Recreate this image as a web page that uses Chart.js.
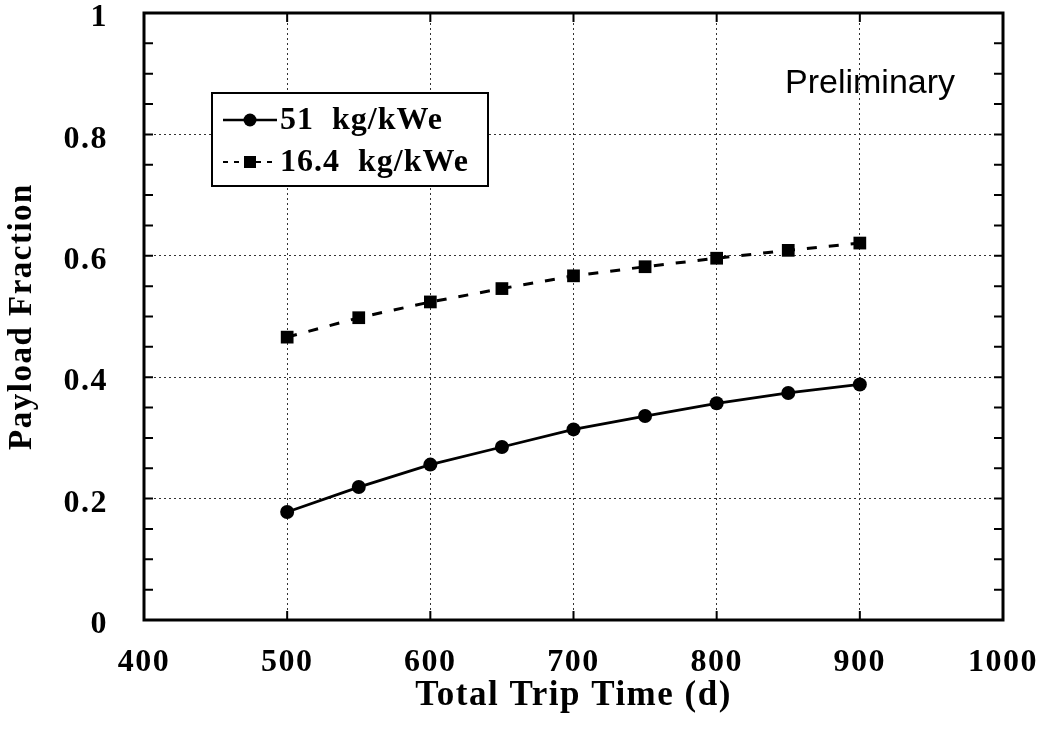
<!DOCTYPE html>
<html><head><meta charset="utf-8">
<script src="https://cdn.jsdelivr.net/npm/chart.js@4/dist/chart.umd.min.js"></script>
<style>html,body{margin:0;padding:0;background:#fff}canvas{display:block}</style>
</head><body>
<canvas id="c" width="1045" height="736"></canvas>
<script>
const tripTimes = [500, 550, 600, 650, 700, 750, 800, 850, 900];
const payload51 = [0.178, 0.219, 0.256, 0.285, 0.314, 0.336, 0.357, 0.374, 0.388];
const payload164 = [0.466, 0.498, 0.524, 0.546, 0.567, 0.582, 0.596, 0.609, 0.621];
const xTicks = [400, 500, 600, 700, 800, 900, 1000];
const yTicks = [0, 0.2, 0.4, 0.6, 0.8, 1];
const yMinorTicks = [0,0.05,0.1,0.15,0.2,0.25,0.3,0.35,0.4,0.45,0.5,0.55,0.6,0.65,0.7,0.75,0.8,0.85,0.9,0.95,1];
const seriesNames = ['51  kg/kWe', '16.4  kg/kWe'];
const xTitle = 'Total Trip Time (d)';
const yTitle = 'Payload Fraction';
const noteText = 'Preliminary';

const SERIF = '"Liberation Serif", "Times New Roman", serif';
const SANS = '"Liberation Sans", Arial, sans-serif';

const spacingPlugin = {
  id: 'spacing',
  beforeDraw(chart) { chart.ctx.letterSpacing = '1.5px'; }
};

const framePlugin = {
  id: 'frame',
  afterDatasetsDraw(chart) {
    const {ctx, chartArea: a, scales} = chart;
    ctx.save();
    ctx.strokeStyle = '#000';
    ctx.lineWidth = 3;
    ctx.setLineDash([]);
    ctx.strokeRect(a.left, a.top, a.right - a.left, a.bottom - a.top);
    ctx.lineWidth = 2;
    ctx.beginPath();
    yMinorTicks.forEach(v => {
      const y = scales.y.getPixelForValue(v);
      ctx.moveTo(a.left, y); ctx.lineTo(a.left + 9, y);
      ctx.moveTo(a.right, y); ctx.lineTo(a.right - 9, y);
    });
    xTicks.forEach(v => {
      const x = scales.x.getPixelForValue(v);
      ctx.moveTo(x, a.bottom); ctx.lineTo(x, a.bottom - 9);
      ctx.moveTo(x, a.top); ctx.lineTo(x, a.top + 9);
    });
    ctx.stroke();
    // note text
    ctx.fillStyle = '#000';
    ctx.letterSpacing = '0px';
    ctx.font = '34px ' + SANS;
    ctx.textBaseline = 'alphabetic';
    ctx.textAlign = 'left';
    ctx.fillText(noteText, 785, 93);
    // legend box
    const bx = 212, by = 93, bw = 276, bh = 93;
    ctx.fillStyle = '#fff';
    ctx.fillRect(bx, by, bw, bh);
    ctx.lineWidth = 2;
    ctx.strokeStyle = '#000';
    ctx.strokeRect(bx, by, bw, bh);
    const rows = [120, 162];
    chart.data.datasets.forEach((ds, i) => {
      const y = rows[i];
      ctx.save();
      ctx.strokeStyle = '#000';
      ctx.lineWidth = i === 0 ? 2.5 : 2;
      ctx.setLineDash(i === 0 ? [] : [5, 6]);
      ctx.beginPath(); ctx.moveTo(223, y); ctx.lineTo(277, y); ctx.stroke();
      ctx.restore();
      ctx.fillStyle = '#000';
      if (i === 0) { ctx.beginPath(); ctx.arc(250, y, 6.5, 0, Math.PI * 2); ctx.fill(); }
      else { ctx.fillRect(244, y - 6, 12, 12); }
      ctx.letterSpacing = '1px';
      ctx.font = 'bold 32px ' + SERIF;
      ctx.textBaseline = 'middle';
      ctx.textAlign = 'left';
      ctx.fillText(ds.label, 280, y + 1);
    });
    ctx.restore();
  }
};

new Chart(document.getElementById('c'), {
  type: 'line',
  data: {
    datasets: [
      {
        label: seriesNames[0],
        data: tripTimes.map((t, i) => ({x: t, y: payload51[i]})),
        borderColor: '#000', backgroundColor: '#000', borderWidth: 2.8,
        pointStyle: 'circle', pointRadius: 7, pointBorderWidth: 0, pointBackgroundColor: '#000',
        tension: 0, fill: false
      },
      {
        label: seriesNames[1],
        data: tripTimes.map((t, i) => ({x: t, y: payload164[i]})),
        borderColor: '#000', backgroundColor: '#000', borderWidth: 3, borderDash: [10, 12],
        pointStyle: 'rect', pointRadius: 9, pointBorderWidth: 0, pointBackgroundColor: '#000',
        tension: 0, fill: false
      }
    ]
  },
  options: {
    responsive: false, animation: false, devicePixelRatio: 1,
    layout: {padding: {top: 13, right: 42, left: 0, bottom: 0}},
    plugins: {legend: {display: false}, tooltip: {enabled: false}},
    scales: {
      x: {
        type: 'linear', min: 400, max: 1000,
        afterBuildTicks: s => { s.ticks = xTicks.map(v => ({value: v})); },
        afterFit: s => { s.height = 116; s.paddingLeft = 0; s.paddingRight = 0; },
        ticks: {color: '#000', padding: 24, font: {family: SERIF, size: 32, weight: 'bold'}, callback: v => String(v)},
        grid: {color: '#333', lineWidth: 1, drawTicks: false},
        border: {display: false, dash: [2, 3]},
        title: {display: true, text: xTitle, color: '#000', font: {family: SERIF, size: 35, weight: 'bold'}, padding: {top: 19, bottom: 19}}
      },
      y: {
        type: 'linear', min: 0, max: 1,
        afterBuildTicks: s => { s.ticks = yTicks.map(v => ({value: v})); },
        afterFit: s => { s.width = 144; s.paddingTop = 0; s.paddingBottom = 0; },
        ticks: {color: '#000', padding: 36, labelOffset: 5, font: {family: SERIF, size: 32, weight: 'bold'}, callback: v => (v === 0 || v === 1) ? String(v) : v.toFixed(1)},
        grid: {color: '#333', lineWidth: 1, drawTicks: false},
        border: {display: false, dash: [2, 3]},
        title: {display: true, text: yTitle, color: '#000', font: {family: SERIF, size: 33, weight: 'bold'}, padding: {top: 3, bottom: 3}}
      }
    }
  },
  plugins: [spacingPlugin, framePlugin]
});
</script>
</body></html>
